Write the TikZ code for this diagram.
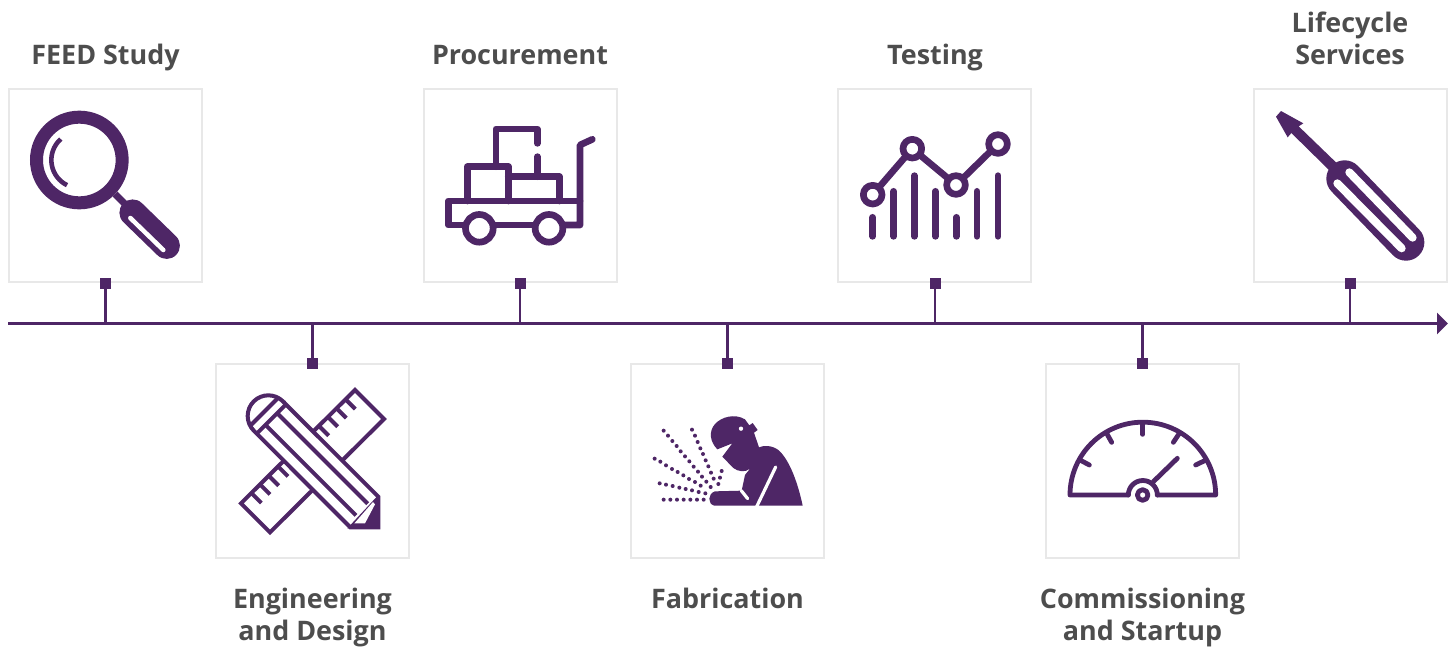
\documentclass[tikz,border=0pt]{standalone}
\usepackage{fontspec}
\setmainfont{Open Sans}
\usetikzlibrary{arrows.meta}
\definecolor{pur}{HTML}{4E2666}
\definecolor{frame}{HTML}{E8E8E8}
\definecolor{txt}{HTML}{4D4D4D}
\tikzset{
  iconbox/.style={draw=frame,line width=2pt,fill=white,minimum width=193pt,minimum height=193.5pt,inner sep=0pt,outer sep=0pt},
  marker/.style={fill=pur,minimum size=11pt,inner sep=0pt,outer sep=0pt},
  stem/.style={draw=pur,line width=2.5pt},
  title/.style={text=txt,font=\fontsize{26.9}{32}\selectfont\bfseries,align=center,inner sep=0pt,anchor=base},
  ico/.style={draw=pur,line width=6.7pt,line cap=round,line join=round},
  penline/.style={draw=pur,line width=4pt,line cap=butt,line join=miter},
  gau/.style={draw=pur,line width=4.8pt,line cap=round,line join=round},
}
\begin{document}
\begin{tikzpicture}[x=1pt,y=1pt,yscale=-1]
\useasboundingbox (0,0) rectangle (1454,646);
% frames
\node[iconbox] (b1) at (105.5,185.5) {};
\node[iconbox] (b3) at (520,185.5) {};
\node[iconbox] (b5) at (934.7,185.5) {};
\node[iconbox] (b7) at (1350,185.5) {};
\node[iconbox] (b2) at (312.8,461) {};
\node[iconbox] (b4) at (727.8,461) {};
\node[iconbox] (b6) at (1142.8,461) {};
% axis
\coordinate (axs) at (8,323.5);
\coordinate (axe) at (1448,323.5);
\draw[draw=pur,line width=3pt,-{Triangle[length=11pt,width=21pt,fill=pur]}] (axs) -- (axe);
% markers and stems
\foreach \n/\x/\y in {1/105.5/283.5,3/520/283.5,5/935/283.5,7/1350/283.5,2/312.5/363.5,4/727.5/363.5,6/1142.5/363.5}{
  \node[marker] (s\n) at (\x,\y) {};
  \coordinate (a\n) at (\x,323.5);
  \draw[stem] (s\n) -- (a\n);
}
% titles
\node[title] (t1) at (105.5,64) {FEED Study};
\node[title] (t3) at (520,64) {Procurement};
\node[title] (t5) at (935,64) {Testing};
\node[title] (t7) at (1350,64) {Lifecycle\\Services};
\node[title] (t2) at (312.5,640) {Engineering\\and Design};
\node[title] (t4) at (727.5,608) {Fabrication};
\node[title] (t6) at (1142.5,640) {Commissioning\\and Startup};
% magnifier
\begin{scope}[shift={(0,80)},scale=1/3]
  \draw[draw=pur,line width=13pt] (238,240) circle (128.5);
  \draw[draw=pur,line width=4.6pt] (238,240) ++(228.5:84) arc (228.5:116:84);
  \draw[draw=pur,line width=7pt] (345,342) -- (385,382);
  \draw[draw=pur,line width=26.5pt,line cap=round] (398,398) -- (500,497);
  \draw[draw=white,line width=4.5pt,line cap=round] (391,414) -- (490,510);
\end{scope}
% cart
\begin{scope}[shift={(420,85)},scale=1/3]
  \draw[ico] (135,420) -- (85,420) -- (85,348) -- (480,348);
  \draw[ico] (222,420) -- (345,420);
  \draw[ico] (430,420) -- (480,420) -- (480,180) -- (517,163);
  \draw[ico] (178,430) circle (41.5);
  \draw[ico] (387,430) circle (41.5);
  \draw[ico] (142,348) -- (142,245) -- (265,245) -- (265,348);
  \draw[ico] (265,275) -- (418,275) -- (418,348);
  \draw[ico] (228,245) -- (228,132) -- (352,132) -- (352,175);
  \draw[ico] (352,215) -- (352,275);
\end{scope}
% chart
\begin{scope}[shift={(835,85)},scale=1/3]
  \foreach \x/\y in {113/397,176/319,238/272,301/319,364/397,426/319,489/272}
    \draw[ico] (\x,\y) -- (\x,454);
  \coordinate (p1) at (113,329);
  \coordinate (p2) at (232,191);
  \coordinate (p3) at (363,300);
  \coordinate (p4) at (489,177);
  \draw[ico,line cap=butt] (p1) -- (p2) -- (p3) -- (p4);
  \foreach \p in {p1,p2,p3,p4}
    \draw[ico,fill=white] (\p) circle (28);
\end{scope}
% screwdriver
\begin{scope}[shift={(1250,85)},scale=1/3]
  \fill[pur] (93,78) -- (160,115) -- (146,124) -- (262,236) -- (240,258) -- (124,144) -- (113,157) -- (78,95) -- cycle;
  \draw[draw=pur,line width=36.7pt,line cap=round] (284,281) -- (468,472);
  \draw[draw=white,line width=8pt,line cap=round] (298,262) -- (488,458);
  \draw[draw=white,line width=8pt,line cap=round] (262,295) -- (455,490);
\end{scope}
% ruler and pencil
\begin{scope}[shift={(215,360)},scale=1/3]
  \draw[penline] (420,90) -- (507,177) -- (165,517) -- (78,430) -- cycle;
  \foreach \x/\y in {392/118,365/145,339/171,312/198,110/400,136/374,162/348,190/320}
    \draw[penline] (\x,\y) -- ++(29,29);
  % pencil
  \draw[penline,fill=white] (203.8,124.2) -- (490,410) -- (490,502) -- (406,502) -- (116.2,211.8)
     arc (135:315:62) -- cycle;
  \draw[penline] (105.5,197.5) -- (189.5,113.5);
  \draw[penline] (125,221) -- (213,133);
  \draw[penline] (187,160) -- (458,431);
  \draw[penline] (152,195) -- (423,466);
  \fill[pur] (490,405) -- (490,505) -- (397,505) -- cycle;
  \fill[white] (418,490) -- (450,490) -- (480,433) -- (474,426) -- cycle;
\end{scope}
% welder
\begin{scope}[shift={(630,400)},scale=1/3]
  \fill[pur] (262,148) .. controls (240,125) and (235,95) .. (255,72)
     .. controls (275,50) and (315,40) .. (345,58)
     -- (358,76) -- (368,69) -- (383,90) -- (372,98)
     -- (387,142) .. controls (400,136) and (425,135) .. (445,150)
     .. controls (480,180) and (505,255) .. (518,317)
     -- (253,317) .. controls (232,312) and (233,280) .. (255,274)
     -- (335,272) -- (345,225) -- (360,206)
     .. controls (345,218) and (325,215) .. (310,204)
     -- (277,170) -- (307,130) -- cycle;
  \fill[white] (333,86) circle (6.5);
  \draw[draw=white,line width=3.2pt,line cap=round] (437,201) -- (380,320);
  \draw[draw=white,line width=3.2pt,line cap=round] (334,272) -- (353,296);
  \foreach \x/\y in {101/92,114/107,127/123,140/138,152/154,165/169,178/184,191/200,204/215,216/230,229/245,242/261,
     186/89,195/107,203/126,211/145,219/162,227/181,235/199,243/218,251/236,
     275/213,270/233,265/252,
     74/176,91/185,108/196,126/207,143/216,160/226,177/237,195/246,212/257,
     89/250,108/254,128/258,148/263,167/267,186/271,206/276,226/280,
     101/299,121/299,141/299,161/299,181/299,201/299,221/299}
    \fill[pur] (\x,\y) circle (6);
\end{scope}
% gauge
\begin{scope}[shift={(1050,400)},scale=1/3]
  \draw[gau] (235,285) -- (60,285) arc (180:360:218.5) -- (322,285);
  \draw[gau] (235,285) arc (180:360:43.5);
  \draw[gau] (278,285) circle (16);
  \draw[gau] (310,245) -- (382,175);
  \draw[gau] (278,68) -- (278,103);
  \draw[gau] (170,100) -- (185,127);
  \draw[gau] (388,100) -- (370,127);
  \draw[gau] (90,180) -- (118,195);
  \draw[gau] (468,180) -- (437,195);
\end{scope}
\end{tikzpicture}
\end{document}
